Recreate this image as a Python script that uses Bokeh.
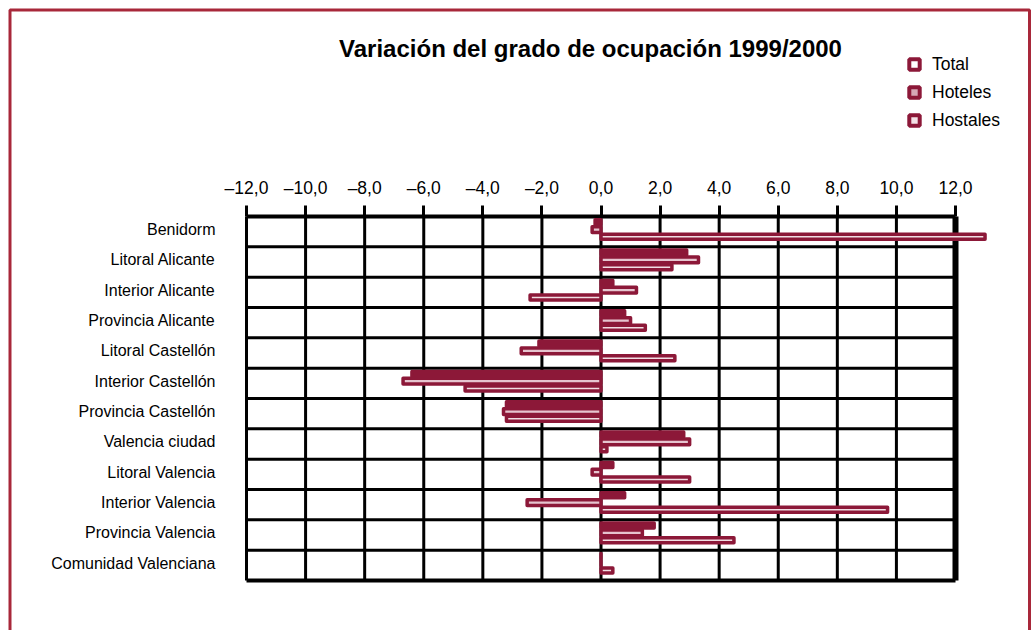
from bokeh.plotting import figure
from bokeh.models import (Range1d, FixedTicker, Label, Legend, LegendItem,
                          BoxAnnotation, ColumnDataSource)
from bokeh.transform import dodge
from bokeh.embed import file_html
from bokeh.resources import INLINE

# ---------------- data ----------------
categories = ["Benidorm", "Litoral Alicante", "Interior Alicante", "Provincia Alicante",
              "Litoral Castellón", "Interior Castellón", "Provincia Castellón",
              "Valencia ciudad", "Litoral Valencia", "Interior Valencia",
              "Provincia Valencia", "Comunidad Valenciana"]
total = [-0.2, 2.9, 0.4, 0.8, -2.1, -6.4, -3.2, 2.8, 0.4, 0.8, 1.8, 0.0]
hoteles = [-0.3, 3.3, 1.2, 1.0, -2.7, -6.7, -3.3, 3.0, -0.3, -2.5, 1.4, 0.0]
hostales = [13.0, 2.4, -2.4, 1.5, 2.5, -4.6, -3.2, 0.2, 3.0, 9.7, 4.5, 0.4]
series_names = ["Total", "Hoteles", "Hostales"]
x_ticks = [-12, -10, -8, -6, -4, -2, 0, 2, 4, 6, 8, 10, 12]
x_tick_labels = ["–12,0", "–10,0", "–8,0", "–6,0", "–4,0", "–2,0", "0,0",
                 "2,0", "4,0", "6,0", "8,0", "10,0", "12,0"]
title_text = "Variación del grado de ocupación 1999/2000"

# ---------------- layout / style ----------------
W, H = 1031, 630
DARK = "#8c1838"
FONT = "Liberation Sans"
legend_fills = ["#ffffff", "#d6a7b6", "#f3e1e6"]
bar_fills = [DARK, "#e6c4cf", "#f1dde3"]
bar_heights = [0.165, 0.19, 0.165]
n = len(categories)
ROW_SHIFT = 0.43                      # label sits slightly above row centre

# pixel geometry of the plotting grid (frame = whole canvas)
GX0, GX1 = 246, 955                   # pixels of first / last x tick
GY0, GY1 = 216, 580                   # pixels of top / bottom row boundary
PX_PER_X = (GX1 - GX0) / (max(x_ticks) - min(x_ticks))
PX_PER_ROW = (GY1 - GY0) / n


def px2x(px):
    return min(x_ticks) + (px - GX0) / PX_PER_X


def py2y(py):
    return -ROW_SHIFT + (py - GY0) / PX_PER_ROW


p = figure(width=W, height=H,
           x_range=Range1d(px2x(0), px2x(W)), y_range=Range1d(py2y(H), py2y(0)),
           x_axis_location="above", output_backend="svg", toolbar_location=None,
           min_border=0, min_border_left=0, min_border_right=0,
           min_border_top=0, min_border_bottom=0,
           background_fill_color="white", border_fill_color="white",
           outline_line_color=None)
p.xgrid.visible = False
p.ygrid.visible = False

bounds_y = [k - ROW_SHIFT for k in range(n + 1)]
y_top, y_bot = bounds_y[0], bounds_y[-1]
x_lo, x_hi = min(x_ticks), max(x_ticks)

# vertical grid lines (bounded) and thick right border
p.segment(x0=x_ticks[:-1], x1=x_ticks[:-1], y0=y_top, y1=y_bot,
          line_color="black", line_width=3)
p.segment(x0=x_ticks[-1:], x1=x_ticks[-1:], y0=y_top, y1=y_bot,
          line_color="black", line_width=6)
# horizontal separators
inner = bounds_y[1:-1]
edges = [y_top, y_bot]
p.segment(x0=x_lo, x1=x_hi, y0=inner, y1=inner, line_color="black", line_width=3)
p.segment(x0=x_lo, x1=x_hi, y0=edges, y1=edges, line_color="black", line_width=4)

# bars
src = ColumnDataSource(dict(y=list(range(n)), total=total, hoteles=hoteles, hostales=hostales))
offsets = [-0.24, 0.0, 0.24]
fields = ["total", "hoteles", "hostales"]
for f, off, fc, hh in zip(fields, offsets, bar_fills, bar_heights):
    p.hbar(y=dodge("y", off), left=0, right=f, height=hh, source=src,
           fill_color=fc, line_color=DARK, line_width=3.5, line_join="round")

# axes placed inside the (full-canvas) frame
xa = p.xaxis[0]
xa.fixed_location = y_top
xa.ticker = FixedTicker(ticks=x_ticks)
xa.major_label_overrides = dict(zip(x_ticks, x_tick_labels))
xa.axis_line_color = None
xa.major_tick_line_color = "black"
xa.major_tick_line_width = 3
xa.major_tick_out = 11
xa.major_tick_in = 0
xa.minor_tick_line_color = None
xa.major_label_text_font = FONT
xa.major_label_text_font_size = "17.5px"
xa.major_label_text_color = "black"
xa.major_label_standoff = 8

ya = p.yaxis[0]
ya.fixed_location = x_lo
ya.ticker = FixedTicker(ticks=list(range(n)))
ya.major_label_overrides = {i: c for i, c in enumerate(categories)}
ya.axis_line_color = None
ya.major_tick_line_color = None
ya.minor_tick_line_color = None
ya.major_tick_out = 0
ya.major_tick_in = 0
ya.major_label_standoff = 31
ya.major_label_text_font = FONT
ya.major_label_text_font_size = "16px"
ya.major_label_text_color = "black"

# title
p.add_layout(Label(x=px2x(590), y=py2y(48), text=title_text, text_font=FONT,
                   text_font_style="bold", text_font_size="24px",
                   text_align="center", text_baseline="middle", text_color="black"))

# legend (swatch renderers hold no visible point)
nan = float("nan")
leg_renderers = []
for fc in legend_fills:
    r = p.scatter(x="x", y="y", source=ColumnDataSource(dict(x=[nan], y=[nan])),
                  marker="square", size=12, fill_color=fc, line_color=DARK, line_width=4)
    leg_renderers.append(r)
legend = Legend(items=[LegendItem(label=nm, renderers=[r], index=0)
                       for nm, r in zip(series_names, leg_renderers)],
                location=(901, H - 133), glyph_width=26, glyph_height=26, label_height=26,
                spacing=2, padding=0, margin=0, label_standoff=5,
                border_line_color=None, background_fill_alpha=0,
                label_text_font=FONT, label_text_font_size="17.5px", label_text_color="black")
p.add_layout(legend)

# outer border of the chart (bottom edge lies below the window)
p.add_layout(BoxAnnotation(left=px2x(9.5), right=px2x(1029), top=py2y(9.5), bottom=py2y(H + 40),
                           fill_alpha=0, line_alpha=1.0, line_color="#a8283a", line_width=3))

open("out.html", "w").write(file_html(p, INLINE))
